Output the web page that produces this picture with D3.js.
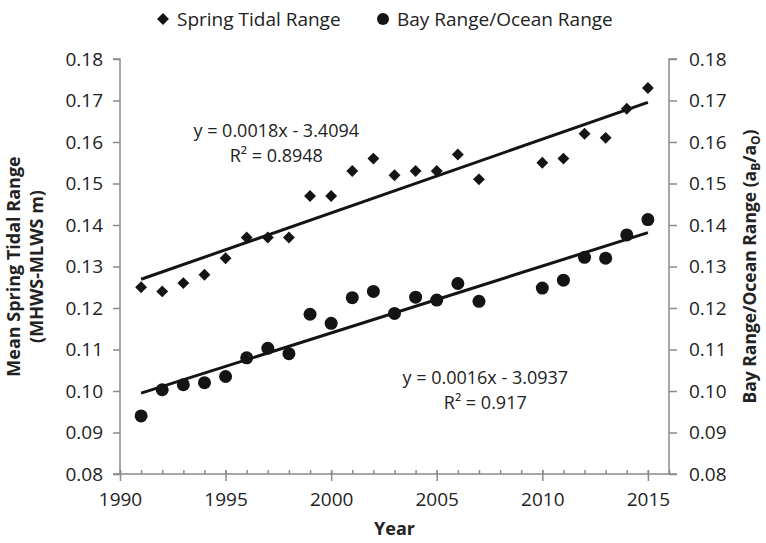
<!DOCTYPE html>
<html>
<head>
<meta charset="utf-8">
<script src="https://cdn.jsdelivr.net/npm/d3@7"></script>
<style>
  body { margin: 0; background: #fff; }
  text { font-family: 'Open Sans', sans-serif; fill: #222; }
</style>
</head>
<body>
<svg id="chart" width="766" height="543"></svg>
<script>
// Survey years
const years = [1991, 1992, 1993, 1994, 1995, 1996, 1997, 1998, 1999, 2000, 2001, 2002,
               2003, 2004, 2005, 2006, 2007, 2010, 2011, 2012, 2013, 2014, 2015];
// Mean spring tidal range (MHWS-MLWS, m) – left axis
const springRange = [0.125, 0.124, 0.126, 0.128, 0.132, 0.137, 0.137, 0.137, 0.147, 0.147, 0.153, 0.156,
                     0.152, 0.153, 0.153, 0.157, 0.151, 0.155, 0.156, 0.162, 0.161, 0.168, 0.173];
// Bay range / ocean range ratio – right axis
const bayOceanRatio = [0.0940, 0.1003, 0.1015, 0.1020, 0.1035, 0.1080, 0.1103, 0.1090, 0.1185, 0.1163, 0.1225, 0.1240,
                       0.1187, 0.1226, 0.1219, 0.1259, 0.1216, 0.1248, 0.1267, 0.1322, 0.1320, 0.1376, 0.1413];

const xTickValues = [1990, 1995, 2000, 2005, 2010, 2015];
const yTickValues = [0.08, 0.09, 0.10, 0.11, 0.12, 0.13, 0.14, 0.15, 0.16, 0.17, 0.18];

const seriesNames = ["Spring Tidal Range", "Bay Range/Ocean Range"];
const springFit = { eq: "y = 0.0018x - 3.4094", r2: "R² = 0.8948", at: [1997.4, 0.1627] };
const bayFit    = { eq: "y = 0.0016x - 3.0937", r2: "R² = 0.917",  at: [2007.3, 0.1031] };

const svg = d3.select("#chart");
const pLeft = 120, pRight = 669, pTop = 59, pBottom = 474;
const axisColor = "#8a8a8a";
const markColor = "#141414";

const x = d3.scaleLinear().domain([1990, 2016]).range([pLeft, pRight]);
const yL = d3.scaleLinear().domain([0.08, 0.18]).range([pBottom, pTop]);
const yR = d3.scaleLinear().domain([0.08, 0.18]).range([pBottom, pTop]);
const fmt = d3.format(".2f");

// Left axis
const gL = svg.append("g").attr("transform", `translate(${pLeft},0)`)
  .call(d3.axisLeft(yL).tickValues(yTickValues).tickFormat(fmt).tickSize(7).tickPadding(10));
// Right axis
const gR = svg.append("g").attr("transform", `translate(${pRight},0)`)
  .call(d3.axisRight(yR).tickValues(yTickValues).tickFormat(fmt).tickSize(8).tickPadding(12));
// Bottom axis: minor yearly ticks inside, major ticks crossing
const gMinor = svg.append("g").attr("transform", `translate(0,${pBottom})`)
  .call(d3.axisTop(x).tickValues(d3.range(1990, 2017)).tickFormat("").tickSize(4));
gMinor.select(".domain").remove();
const gB = svg.append("g").attr("transform", `translate(0,${pBottom})`)
  .call(d3.axisBottom(x).tickValues(xTickValues).tickFormat(d3.format("d")).tickSize(7).tickPadding(12));
gB.selectAll(".tick line").attr("y1", -4);

[gL, gR, gMinor, gB].forEach(g => {
  g.selectAll(".domain").attr("stroke", axisColor).attr("stroke-width", 1.5);
  g.selectAll(".tick line").attr("stroke", axisColor).attr("stroke-width", 1.5);
  g.selectAll(".tick text").style("font-size", "19px").attr("fill", "#222");
});
gL.select(".domain").attr("d", `M-7,${pTop}H0V${pBottom}H-7`);
gR.select(".domain").attr("d", `M8,${pTop}H0V${pBottom}H8`);
gB.select(".domain").attr("d", `M${pLeft},0H${pRight}`);

// Least-squares trend lines drawn from the data
function fit(xs, ys) {
  const mx = d3.mean(xs), my = d3.mean(ys);
  let sxy = 0, sxx = 0;
  xs.forEach((v, i) => { sxy += (v - mx) * (ys[i] - my); sxx += (v - mx) * (v - mx); });
  const m = sxy / sxx;
  return v => my + m * (v - mx);
}
const x0 = d3.min(years), x1 = d3.max(years);
const lineGen = (f, sc) => d3.line().x(d => x(d)).y(d => sc(f(d)))([x0, x1]);
const springTrend = fit(years, springRange);
const bayTrend = fit(years, bayOceanRatio);
svg.append("path").attr("d", lineGen(springTrend, yL))
  .attr("stroke", markColor).attr("stroke-width", 3).attr("fill", "none");
svg.append("path").attr("d", lineGen(bayTrend, yR))
  .attr("stroke", markColor).attr("stroke-width", 3).attr("fill", "none");

// Markers
const diamond = d3.symbol().type(d3.symbolDiamond2).size(90);
svg.append("g").selectAll("path").data(years).join("path")
  .attr("d", diamond)
  .attr("transform", (d, i) => `translate(${x(d)},${yL(springRange[i])})`)
  .attr("fill", markColor);
svg.append("g").selectAll("circle").data(years).join("circle")
  .attr("cx", d => x(d)).attr("cy", (d, i) => yR(bayOceanRatio[i]))
  .attr("r", 6.5).attr("fill", markColor);

// Trend equations
function eqLabel(f, sc) {
  const cx = x(f.at[0]), cy = sc(f.at[1]);
  svg.append("text").attr("x", cx).attr("y", cy + 6).attr("text-anchor", "middle")
    .style("font-size", "18px").text(f.eq);
  svg.append("text").attr("x", cx).attr("y", cy + 31).attr("text-anchor", "middle")
    .style("font-size", "18px").text(f.r2);
}
eqLabel(springFit, yL);
eqLabel(bayFit, yR);

// Legend
const legend = svg.append("g");
legend.append("path").attr("d", diamond).attr("transform", "translate(163,19)").attr("fill", markColor);
legend.append("text").attr("x", 177).attr("y", 26).style("font-size", "19px").text(seriesNames[0]);
legend.append("circle").attr("cx", 383).attr("cy", 19).attr("r", 6).attr("fill", markColor);
legend.append("text").attr("x", 397).attr("y", 26).style("font-size", "19px").text(seriesNames[1]);

// Axis titles
svg.append("text").attr("x", (pLeft + pRight) / 2).attr("y", 535).attr("text-anchor", "middle")
  .style("font-size", "18px").style("font-weight", "bold").text("Year");

const ltitle = svg.append("text").attr("transform", `translate(20,${(pTop + pBottom) / 2}) rotate(-90)`)
  .attr("text-anchor", "middle").style("font-size", "18px").style("font-weight", "bold");
ltitle.append("tspan").attr("x", 0).attr("dy", 0).text("Mean Spring Tidal Range");
ltitle.append("tspan").attr("x", 0).attr("dy", 23).text("(MHWS-MLWS m)");

const rtitle = svg.append("text").attr("transform", `translate(756,${(pTop + pBottom) / 2}) rotate(-90)`)
  .attr("text-anchor", "middle").style("font-size", "17.5px").style("font-weight", "bold");
rtitle.append("tspan").text("Bay Range/Ocean Range (a");
rtitle.append("tspan").attr("dy", 4).style("font-size", "12px").text("B");
rtitle.append("tspan").attr("dy", -4).text("/a");
rtitle.append("tspan").attr("dy", 4).style("font-size", "12px").text("O");
rtitle.append("tspan").attr("dy", -4).text(")");
</script>
</body>
</html>
